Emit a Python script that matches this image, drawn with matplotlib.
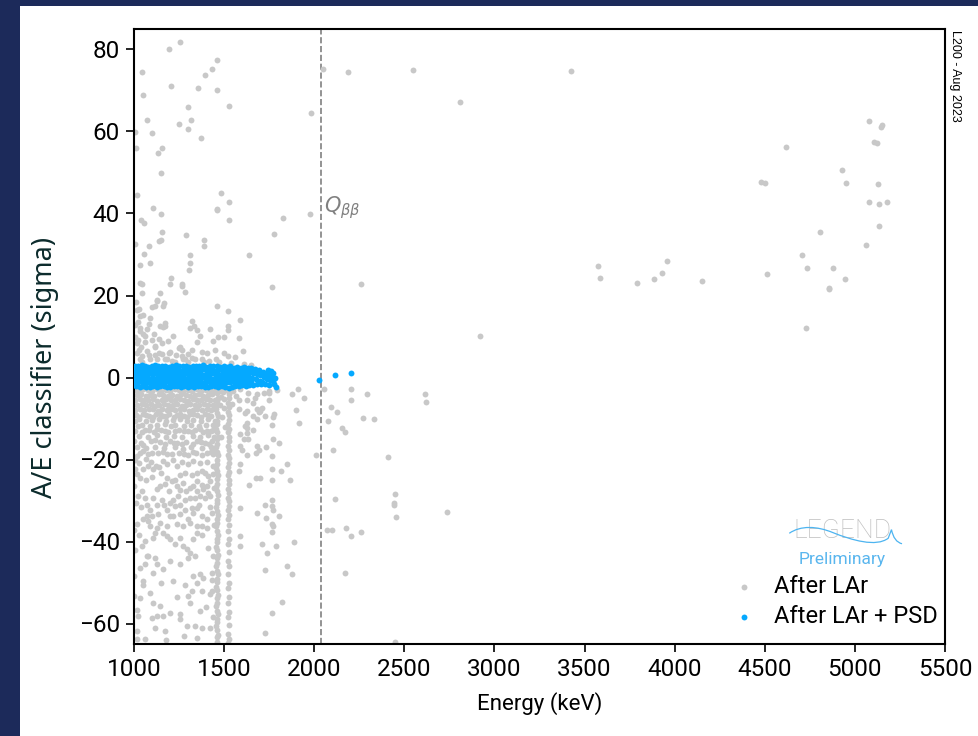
import numpy as np
import matplotlib.pyplot as plt
from matplotlib.patches import Rectangle, PathPatch
from matplotlib.path import Path

plt.rcParams["font.family"] = ["Roboto", "DejaVu Sans"]
plt.rcParams["mathtext.fontset"] = "dejavusans"

Q_BB = 2039.0  # keV

# ---- events after LAr veto (energy keV, A/E sigma) ----
lar_high = [
    (1255, 81.8), (1194, 80.2), (1043, 74.5), (1048, 69.0), (1459, 77.4), (1433, 75.2),
    (1396, 73.7), (1204, 71.0), (1357, 70.5), (1459, 70.0), (1525, 66.3), (1298, 65.9),
    (1318, 62.8), (1250, 61.8), (1070, 62.7), (1301, 60.5), (1098, 59.7), (1007, 59.9),
    (1372, 58.5), (1011, 56.0), (1157, 56.0), (1135, 54.7), (1152, 49.8), (1015, 44.6),
    (1481, 45.0), (1525, 42.8), (1107, 41.4), (1459, 40.8), (1461, 41.2), (1037, 38.3),
    (1055, 37.6), (1148, 39.8), (1525, 38.5), (1829, 38.9), (1975, 39.8), (1981, 64.6),
    (2049, 75.3), (2186, 74.6), (2547, 74.9), (2809, 67.2), (1157, 35.5), (1137, 33.3),
    (1150, 33.5), (1289, 34.8), (1390, 33.5), (1390, 32.0), (1779, 35.0), (1004, 32.6),
    (1081, 32.0), (1055, 30.1), (1309, 29.9), (1638, 29.9), (1309, 27.9), (1033, 27.4),
    (1089, 28.0), (1305, 26.2), (1207, 24.3), (1033, 23.1), (1044, 22.8), (1198, 22.8),
    (1265, 22.9), (1268, 22.4), (2261, 22.7), (1764, 22.0), (1043, 20.7), (1146, 20.7),
    (1285, 20.9), (2922, 10.2),
    (3425, 74.8), (5079, 62.5), (5153, 61.5), (5145, 61.0), (4617, 56.2), (5108, 57.5),
    (5125, 57.2), (4931, 50.6), (4953, 47.4), (5129, 47.2), (4478, 47.6), (4503, 47.4),
    (5079, 42.9), (5134, 42.4), (5177, 42.9), (5134, 36.9), (4808, 35.4), (5063, 32.3),
    (4705, 30.0), (3573, 27.1), (3588, 24.3), (3959, 28.4), (3930, 25.4), (3884, 24.1),
    (3790, 23.0), (4150, 23.5), (4735, 26.8), (4879, 26.6), (4515, 25.2), (4944, 24.1),
    (4855, 21.6), (4858, 21.9), (4731, 12.0),
]

lar_mid = [
    (1126, 18.8), (1117, 17.5), (1098, 17.2), (1163, 17.5), (1463, 17.4), (1524, 16.1),
    (1015, 16.5), (1034, 14.9), (1085, 13.1), (1172, 12.5), (1159, 12.2), (1311, 12.1),
    (1320, 13.7), (1348, 11.7), (1367, 10.2), (1422, 11.9), (1524, 12.6), (1524, 11.7),
    (1589, 14.1), (1219, 10.2), (1468, 9.8), (1502, 9.9), (1585, 9.6), (1603, 6.5),
    (1524, 5.2), (1455, 4.4), (1376, 4.4), (1320, 4.8), (1265, 5.2), (1256, 7.4),
    (1200, 6.1), (1154, 5.7), (1117, 7.4), (1061, 8.7), (1052, 10.5), (1034, 12.1),
    (1024, 9.2), (1015, 6.0), (1034, 4.4), (1089, 4.4), (1117, 5.6), (1182, 4.4),
    (1274, 4.4), (1404, 6.0), (1071, 6.4), (1128, 18.6), (1165, 18.2), (1030, 16.6),
    (1174, 13.3), (1146, 12.5), (1331, 12.5), (1035, 11.3), (1063, 10.1), (1100, 9.2),
    (1118, 7.6), (1155, 8.4), (1248, 7.2), (1266, 6.8), (1192, 6.0), (1322, 6.8),
    (1377, 6.2), (1451, 6.8), (1026, 6.8), (1044, 5.2), (1081, 5.6), (1137, 6.0),
    (1128, 4.4), (1174, 4.5), (1211, 4.1), (1285, 4.4), (1340, 4.4), (1414, 4.1),
    (1017, 8.4), (1045, 3.8), (1230, 3.9), (1300, 3.7), (1390, 3.8), (1470, 3.7),
    (1540, 3.5), (1610, 3.2), (1650, 3.0),
    (1006, 10.0), (1022, 13.5), (1040, 7.5), (1008, 12.8), (1012, 18.5), (1050, 15.2),
    (1072, 11.8), (1090, 14.5), (1110, 10.6), (1140, 9.5), (1190, 8.8), (1235, 5.5),
    (1300, 5.8), (1350, 8.6), (1440, 8.9), (1500, 5.9), (1560, 5.1),
]

# dense continuum below the PSD band, 1000-1460 keV
lar_low = [
    (1004, -3.0), (1029, -3.3), (1052, -2.9), (1078, -3.1), (1101, -3.4), (1127, -2.9),
    (1150, -3.2), (1176, -3.0), (1199, -3.3), (1225, -2.9), (1251, -3.1), (1274, -3.4),
    (1300, -3.0), (1323, -3.2), (1349, -2.9), (1372, -3.3), (1398, -3.1), (1421, -3.0),
    (1445, -3.2),
    (1016, -4.3), (1041, -4.1), (1065, -4.5), (1090, -4.2), (1113, -4.4), (1139, -4.0),
    (1163, -4.3), (1188, -4.6), (1212, -4.2), (1237, -4.4), (1262, -4.1), (1287, -4.3),
    (1311, -4.5), (1336, -4.2), (1361, -4.0), (1385, -4.4), (1409, -4.3), (1434, -4.1),
    (1006, -5.5), (1031, -5.3), (1054, -5.6), (1080, -5.4), (1104, -5.2), (1128, -5.7),
    (1153, -5.4), (1179, -5.3), (1203, -5.6), (1227, -5.5), (1253, -5.2), (1277, -5.4),
    (1302, -5.7), (1326, -5.3), (1351, -5.5), (1374, -5.6), (1400, -5.2), (1424, -5.4),
    (1448, -5.5),
    (1018, -6.7), (1043, -6.5), (1067, -6.8), (1092, -6.4), (1116, -6.9), (1141, -6.6),
    (1166, -6.5), (1190, -6.8), (1215, -6.6), (1240, -6.4), (1264, -6.9), (1289, -6.7),
    (1313, -6.5), (1338, -6.6), (1362, -6.8), (1387, -6.4), (1412, -6.7), (1436, -6.6),
    (1008, -7.9), (1033, -7.7), (1057, -8.0), (1082, -7.8), (1107, -7.6), (1131, -8.1),
    (1156, -7.8), (1181, -7.9), (1205, -7.7), (1230, -8.0), (1255, -7.8), (1279, -7.6),
    (1304, -8.1), (1329, -7.9), (1352, -7.7), (1378, -8.0), (1403, -7.8), (1427, -7.9),
    (1450, -7.7),
    (1012, -9.2), (1050, -8.9), (1085, -9.4), (1120, -9.0), (1160, -9.3), (1195, -8.8),
    (1240, -9.1), (1275, -9.5), (1310, -8.9), (1350, -9.2), (1395, -9.0), (1430, -9.4),
    (1030, -9.6), (1068, -9.1), (1103, -9.7), (1142, -9.0), (1178, -9.4), (1220, -9.6),
    (1258, -8.9), (1292, -9.6), (1330, -9.0), (1372, -9.6), (1412, -9.2),
    (1004, -10.5), (1030, -10.2), (1068, -10.6), (1102, -10.3), (1140, -10.1), (1178, -10.7),
    (1215, -10.4), (1258, -10.2), (1292, -10.6), (1330, -10.3), (1372, -10.5), (1412, -10.1),
    (1448, -10.6),
    (1020, -11.8), (1045, -11.5), (1090, -11.9), (1125, -11.6), (1170, -11.4), (1205, -11.9),
    (1230, -11.6), (1280, -11.8), (1318, -11.5), (1360, -11.9), (1400, -11.7), (1440, -11.5),
    (1008, -13.0), (1060, -12.8), (1110, -13.2), (1150, -12.9), (1190, -13.3), (1248, -12.8),
    (1300, -13.1), (1340, -12.9), (1385, -13.2), (1425, -13.0),
    (1045, -13.3), (1085, -12.9), (1130, -12.6), (1170, -13.0), (1225, -13.1), (1275, -13.0),
    (1320, -13.3), (1365, -12.6), (1405, -13.0), (1440, -12.8),
    (1025, -14.3), (1075, -14.5), (1130, -14.1), (1175, -14.4), (1220, -14.2), (1265, -14.6),
    (1325, -14.2), (1365, -14.4), (1410, -14.1), (1445, -14.5),
    (1002, -15.6), (1040, -15.9), (1095, -15.5), (1145, -15.8), (1200, -15.6), (1240, -16.0),
    (1290, -15.7), (1350, -15.5), (1395, -15.9), (1435, -15.6),
    (1050, -16.4), (1118, -15.3), (1170, -16.2), (1220, -15.9), (1265, -16.3), (1325, -16.1),
    (1372, -15.8), (1415, -16.2), (1445, -17.5),
    (1018, -17.0), (1065, -17.3), (1115, -16.9), (1165, -17.2), (1225, -17.0), (1270, -17.4),
    (1315, -16.9), (1380, -17.2), (1425, -17.0),
    (1035, -18.4), (1080, -18.7), (1135, -18.3), (1185, -18.6), (1250, -18.4), (1300, -18.8),
    (1345, -18.5), (1405, -18.3), (1440, -18.7),
    (1048, -18.0), (1100, -18.3), (1160, -18.2), (1210, -18.7), (1280, -18.6), (1325, -18.2),
    (1375, -18.9), (1425, -18.2),
    (1006, -20.0), (1019, -19.2), (1052, -22.4), (1080, -21.6), (1108, -22.4), (1122, -21.6),
    (1163, -20.4), (1219, -20.0), (1182, -24.5), (1209, -25.3), (1228, -24.9), (1256, -23.7),
    (1283, -23.2), (1320, -23.7), (1348, -23.2), (1376, -22.8), (1394, -23.2), (1413, -24.1),
    (1422, -25.3), (1348, -25.3), (1376, -26.1), (1404, -26.5), (1413, -28.1), (1385, -27.3),
    (1348, -27.7), (1311, -26.9), (1274, -25.7), (1237, -26.5), (1145, -26.5), (1126, -27.3),
    (1043, -27.7), (1061, -29.3), (1071, -31.0), (1089, -32.2), (1098, -33.8), (1071, -33.8),
    (1015, -35.8), (1052, -34.6), (1126, -31.0), (1154, -29.8), (1182, -32.2), (1219, -29.8),
    (1228, -31.4), (1256, -31.0), (1283, -29.8), (1311, -29.3), (1339, -29.3), (1367, -28.9),
    (1394, -29.3), (1422, -28.9), (1348, -31.8), (1320, -31.8), (1283, -32.2), (1256, -33.4),
    (1219, -33.8), (1182, -36.3), (1145, -35.4), (1126, -36.7), (1089, -36.3), (1117, -37.9),
    (1108, -39.1), (1043, -41.1), (1061, -39.9), (1080, -43.6), (1117, -44.0), (1126, -45.6),
    (1108, -47.6), (1071, -43.6), (1034, -46.4), (1052, -49.7), (1048, -50.5), (1089, -52.5),
    (1108, -54.9), (1145, -55.8), (1034, -53.7), (1024, -58.2), (1098, -58.6), (1126, -58.2),
    (1163, -58.2), (1200, -57.4), (1256, -57.8), (1256, -59.0), (1293, -60.6), (1339, -60.6),
    (1376, -61.1), (1422, -61.1), (1348, -63.5), (1172, -61.9), (1117, -61.1), (1015, -61.9),
    (1015, -63.9), (1061, -63.9), (1182, -38.7), (1200, -39.5), (1256, -39.1), (1274, -41.1),
    (1293, -41.9), (1311, -42.8), (1339, -43.6), (1302, -44.0), (1200, -44.8), (1256, -45.6),
    (1163, -46.8), (1283, -50.5), (1219, -49.7), (1330, -48.5), (1367, -48.0), (1385, -48.9),
    (1348, -50.1), (1431, -47.6), (1431, -49.3), (1422, -52.9), (1376, -52.1), (1320, -52.1),
    (1302, -53.3), (1431, -52.1), (1367, -57.0), (1311, -54.9), (1348, -36.3), (1376, -36.3),
    (1404, -36.7), (1348, -37.9), (1376, -38.3), (1237, -35.8), (1274, -36.3), (1311, -35.4),
    (1200, -33.8), (1376, -33.8), (1404, -34.6), (1431, -33.0), (1006, -22.4), (1002, -26.5),
    (1011, -30.6), (1002, -37.1), (1006, -42.0), (1002, -48.5), (1002, -53.3), (1015, -56.6),
    (1030, -20.8), (1068, -19.9), (1095, -20.5), (1140, -21.8), (1185, -21.0), (1240, -21.5),
    (1265, -20.6), (1300, -21.2), (1330, -20.3), (1365, -20.9), (1405, -20.5), (1440, -21.7),
    (1015, -23.5), (1035, -24.6), (1065, -25.0), (1098, -24.2), (1150, -23.4), (1170, -26.0),
    (1195, -27.8), (1255, -27.5), (1290, -27.8), (1330, -26.4), (1440, -23.6), (1445, -27.0),
    (1022, -29.0), (1040, -31.6), (1105, -29.5), (1135, -33.2), (1165, -31.2), (1200, -30.5),
    (1245, -29.0), (1300, -34.4), (1330, -33.0), (1360, -31.0), (1420, -31.5), (1445, -36.0),
    (1030, -38.5), (1080, -35.0), (1160, -38.0), (1225, -40.5), (1330, -39.5), (1410, -41.5),
    (1440, -43.5), (1060, -45.5), (1150, -50.0), (1240, -53.5), (1400, -56.0), (1180, -64.0),
    (1280, -63.0), (1440, -58.5),
    (1475, -3.2), (1495, -3.5), (1510, -3.0), (1482, -4.8), (1502, -5.2), (1478, -6.8),
    (1498, -7.5), (1488, -9.6), (1505, -12.0), (1480, -14.5),
]

# 40K full energy line at 1461 keV
lar_k40 = [
    (1457, -2.9), (1461, -3.8), (1465, -4.9), (1459, -5.7), (1463, -6.8), (1457, -7.6),
    (1461, -8.7), (1465, -9.5), (1459, -10.6), (1463, -11.4), (1457, -12.5), (1461, -13.3),
    (1465, -14.4), (1459, -15.1), (1463, -16.3), (1457, -17.0), (1461, -18.2), (1465, -19.0),
    (1459, -20.1), (1463, -21.0), (1457, -22.0), (1461, -22.9), (1465, -23.9), (1459, -24.8),
    (1463, -25.9), (1457, -26.7), (1461, -27.8), (1465, -28.6), (1459, -29.8), (1463, -30.5),
    (1457, -31.7), (1461, -32.5), (1465, -33.6), (1459, -34.4), (1463, -35.6), (1457, -36.3),
    (1461, -37.5), (1465, -38.3), (1459, -39.4), (1463, -40.2), (1457, -41.4), (1461, -42.1),
    (1465, -43.3), (1459, -44.1), (1463, -45.2), (1457, -46.0), (1461, -47.2), (1465, -48.0),
    (1459, -49.1), (1463, -49.9), (1457, -51.1), (1461, -51.8), (1465, -53.0), (1459, -53.8),
    (1463, -54.9), (1457, -55.7), (1461, -56.9), (1465, -57.6), (1459, -58.8), (1463, -59.6),
    (1457, -60.7), (1461, -61.5), (1465, -62.7), (1459, -63.4), (1463, -64.6),
]

# 42K line at 1525 keV
lar_k42 = [
    (1522, -3.0), (1526, -4.1), (1528, -5.0), (1523, -6.2), (1527, -7.1), (1522, -8.3),
    (1525, -9.2), (1528, -10.4), (1523, -11.3), (1526, -12.5), (1522, -13.4), (1525, -14.6),
    (1528, -15.5), (1523, -16.7), (1526, -17.6), (1522, -18.8), (1525, -19.7), (1528, -20.9),
    (1523, -21.8), (1526, -23.0), (1522, -23.9), (1525, -25.1), (1528, -26.0), (1523, -27.2),
    (1526, -28.1), (1522, -29.3), (1525, -30.2), (1528, -31.4), (1523, -32.3), (1526, -33.5),
    (1522, -34.6), (1525, -36.0), (1524, -37.4), (1526, -39.5), (1523, -40.6), (1525, -42.5),
    (1524, -44.8), (1526, -46.0), (1523, -47.9), (1525, -50.2), (1524, -51.3), (1526, -53.5),
    (1523, -55.0), (1525, -57.2), (1524, -58.4), (1526, -60.3), (1523, -62.5), (1525, -63.8),
    (1524, -64.7),
]

# 1530 keV up to the ROI and beyond
lar_tail = [
    (1618, -8.6), (1662, -9.4), (1696, -8.5), (1725, -9.3), (1770, -9.6), (1777, -9.0),
    (1764, -11.5), (1626, -12.3), (1589, -13.9), (1613, -15.0), (1635, -15.1), (1774, -15.0),
    (1681, -16.7), (1733, -16.9), (1677, -18.4), (1764, -19.2), (1587, -21.2), (1583, -22.8),
    (1677, -24.6), (1700, -24.5), (1764, -25.1), (1638, -26.3), (1764, -22.4), (1589, -31.8),
    (1681, -33.0), (1725, -31.0), (1764, -31.4), (1770, -32.2), (1764, -29.8), (1733, -34.2),
    (1764, -35.8), (1774, -36.3), (1764, -37.7), (1589, -38.7), (1589, -41.0), (1709, -40.5),
    (1740, -42.9), (1729, -47.0), (1581, -5.4), (1627, -5.4), (1581, -7.8), (1627, -8.2),
    (1627, -11.1), (1747, -5.4), (1747, -3.8), (1673, -5.0), (1720, -3.8), (1710, -7.4),
    (1683, -7.8), (1627, -13.5), (1692, -17.6), (1627, -18.8), (1803, -16.0), (1618, -11.9),
    (1599, -17.6), (1588, -2.9), (1635, -3.7), (1681, -4.1), (1751, -3.3), (1662, -6.2),
    (1699, -8.2), (1681, -10.2), (1588, -16.8), (1662, -12.7), (1548, -3.2), (1565, -4.6),
    (1545, -6.5),
    (1792, -3.1), (1908, -2.9), (1879, -4.1), (1945, -5.1), (1897, -8.0), (1917, -11.0),
    (1851, -21.2), (1816, -22.8), (1867, -25.0), (1805, -33.8), (1790, -41.1), (1886, -40.1),
    (1849, -45.9), (1877, -48.0), (1823, -54.7), (1764, -57.4), (1729, -62.4),
    (2054, -2.9), (2202, -2.7), (2291, -4.0), (2202, -5.5), (2613, -4.0), (2620, -5.9),
    (2093, -7.2), (2126, -8.3), (2075, -10.6), (2269, -9.8), (2330, -10.0), (2154, -12.4),
    (2173, -13.2), (2104, -17.6), (2012, -18.9), (2410, -19.5), (2117, -29.6), (2448, -28.3),
    (2443, -30.6), (2443, -31.2), (2456, -34.1), (2735, -32.8), (2071, -37.1), (2097, -37.2),
    (2176, -36.7), (2202, -38.7), (2261, -37.7), (2173, -47.6), (2448, -64.4),
]

# ---- events after LAr veto + PSD ----
psd_band = [
    (1003, 2.9), (1021, 2.7), (1042, 3.0), (1060, 2.8), (1078, 2.6), (1099, 2.9), (1117, 3.0),
    (1135, 2.7), (1156, 2.8), (1174, 2.9), (1192, 2.6), (1213, 2.8), (1231, 3.0), (1249, 2.7),
    (1270, 2.9), (1288, 2.8), (1306, 2.6), (1327, 2.9), (1345, 2.7), (1363, 2.8), (1384, 3.0),
    (1402, 2.6), (1420, 2.8), (1441, 2.7), (1459, 2.9), (1477, 2.6), (1498, 2.8), (1516, 2.5),
    (1534, 2.7), (1555, 2.4), (1573, 2.6), (1591, 2.3), (1612, 2.5), (1630, 2.2),
    (1012, 1.9), (1031, 1.8), (1050, 2.0), (1069, 1.7), (1089, 1.9), (1107, 1.8), (1126, 2.0),
    (1145, 1.9), (1164, 1.7), (1183, 1.8), (1202, 2.0), (1221, 1.9), (1240, 1.8), (1259, 1.7),
    (1278, 1.9), (1297, 2.0), (1316, 1.8), (1335, 1.9), (1354, 1.7), (1373, 1.8), (1392, 2.0),
    (1411, 1.9), (1430, 1.8), (1449, 1.7), (1468, 1.9), (1487, 1.8), (1506, 1.6), (1525, 1.8),
    (1544, 1.7), (1563, 1.5), (1582, 1.7), (1601, 1.6), (1620, 1.4), (1639, 1.5),
    (1003, 0.9), (1021, 0.8), (1042, 1.0), (1060, 0.7), (1078, 0.9), (1099, 0.8), (1117, 1.0),
    (1135, 0.8), (1156, 0.9), (1174, 0.7), (1192, 1.0), (1213, 0.9), (1231, 0.8), (1249, 0.9),
    (1270, 0.7), (1288, 1.0), (1306, 0.8), (1327, 0.9), (1345, 0.8), (1363, 1.0), (1384, 0.7),
    (1402, 0.9), (1420, 0.8), (1441, 1.0), (1459, 0.9), (1477, 0.7), (1498, 0.8), (1516, 0.9),
    (1534, 0.7), (1555, 0.8), (1573, 0.6), (1591, 0.8), (1612, 0.7), (1630, 0.6),
    (1012, -0.1), (1031, -0.2), (1050, 0.0), (1069, -0.1), (1089, -0.3), (1107, -0.1),
    (1126, 0.0), (1145, -0.2), (1164, -0.1), (1183, -0.2), (1202, 0.0), (1221, -0.1),
    (1240, -0.3), (1259, -0.1), (1278, -0.2), (1297, 0.0), (1316, -0.1), (1335, -0.2),
    (1354, -0.1), (1373, 0.0), (1392, -0.2), (1411, -0.1), (1430, -0.3), (1449, -0.1),
    (1468, -0.2), (1487, 0.0), (1506, -0.1), (1525, -0.2), (1544, -0.1), (1563, -0.3),
    (1582, -0.2), (1601, -0.1), (1620, -0.2), (1639, -0.3),
    (1003, -1.1), (1021, -1.2), (1042, -1.0), (1060, -1.2), (1078, -1.1), (1099, -1.3),
    (1117, -1.1), (1135, -1.0), (1156, -1.2), (1174, -1.1), (1192, -1.2), (1213, -1.0),
    (1231, -1.1), (1249, -1.3), (1270, -1.1), (1288, -1.2), (1306, -1.0), (1327, -1.1),
    (1345, -1.2), (1363, -1.1), (1384, -1.3), (1402, -1.0), (1420, -1.2), (1441, -1.1),
    (1459, -1.2), (1477, -1.1), (1498, -1.0), (1516, -1.2), (1534, -1.1), (1555, -1.2),
    (1573, -1.0), (1591, -1.1), (1612, -1.2), (1630, -1.1),
    (1012, -2.1), (1031, -2.2), (1050, -2.0), (1069, -2.2), (1089, -2.3), (1107, -2.1),
    (1126, -2.2), (1145, -2.0), (1164, -2.1), (1183, -2.3), (1202, -2.2), (1221, -2.1),
    (1240, -2.0), (1259, -2.2), (1278, -2.1), (1297, -2.3), (1316, -2.1), (1335, -2.2),
    (1354, -2.0), (1373, -2.1), (1392, -2.2), (1411, -2.3), (1430, -2.1), (1449, -2.0),
    (1468, -2.2), (1487, -2.1), (1506, -2.3), (1525, -2.5), (1544, -2.2), (1563, -2.0),
    (1582, -2.1), (1601, -1.9), (1620, -2.0), (1639, -1.8),
    (1650, 2.3), (1660, 1.2), (1655, 0.0), (1650, -1.2), (1662, -1.9), (1672, 2.0),
    (1680, 0.8), (1676, -0.4), (1684, -1.6), (1695, 1.8), (1700, 0.5), (1698, -0.8),
    (1705, -1.5), (1716, 1.4), (1720, 0.2), (1712, -1.2), (1730, 0.9), (1738, -0.3),
    (1728, -1.6), (1745, 1.8), (1750, 0.7), (1752, -0.6), (1748, -1.8), (1760, 1.5),
    (1765, 0.3), (1770, -0.9), (1776, -1.5), (1782, -0.2), (1786, -2.2), (1774, 1.0),
]

psd_roi = [(2027, -0.65), (2117, 0.5), (2202, 1.0)]

x_ticks = [1000, 1500, 2000, 2500, 3000, 3500, 4000, 4500, 5000, 5500]
y_ticks = [-60, -40, -20, 0, 20, 40, 60, 80]

lar = np.array(lar_high + lar_mid + lar_low + lar_k40 + lar_k42 + lar_tail, dtype=float)
psd = np.array(psd_band + psd_roi, dtype=float)

fig = plt.figure(figsize=(9.79, 7.36), dpi=100)
fig.patch.set_facecolor("#1c2a5a")
fig.add_artist(Rectangle((20 / 979, 0), 1, 1 - 6 / 736, transform=fig.transFigure,
                         facecolor="white", edgecolor="none", zorder=0))

ax = fig.add_axes([134 / 979, 1 - 644 / 736, (945 - 134) / 979, (644 - 29) / 736])

grey = "#c8c8c8"
blue = "#05a9ff"
ax.scatter(lar[:, 0], lar[:, 1], s=18, color=grey, linewidths=0, label="After LAr", zorder=2)
ax.scatter(psd[:, 0], psd[:, 1], s=18, color=blue, linewidths=0, label="After LAr + PSD", zorder=3)

ax.axvline(Q_BB, color="#808080", linestyle="--", linewidth=1.2, zorder=1)
ax.text(Q_BB + 16, 40.3, r"$Q_{\beta\beta}$", color="#808080", fontsize=15, va="baseline")

ax.set_xlim(1000, 5500)
ax.set_ylim(-65, 85)
ax.set_xticks(x_ticks)
ax.set_yticks(y_ticks)
ax.tick_params(direction="out", length=6, width=1.2, labelsize=17.5, pad=4)
for sp in ax.spines.values():
    sp.set_linewidth(1.5)

ax.set_xlabel("Energy (keV)", fontsize=16, labelpad=8)
ax.set_ylabel("A/E classifier (sigma)", fontsize=19.5, family=["Noto Sans", "DejaVu Sans"],
              color="#0c2b2c")
ax.yaxis.set_label_coords(-0.092, 0.449)

# LEGEND logo
ax.text(0.873, 0.172, "LEGEND", transform=ax.transAxes, ha="center", va="baseline",
        fontsize=19, color="#bfbfbf", fontweight="light")
verts = [(0.808, 0.180), (0.822, 0.193), (0.842, 0.192), (0.862, 0.181),
         (0.885, 0.169), (0.915, 0.157), (0.930, 0.172),
         (0.934, 0.186),
         (0.937, 0.166), (0.947, 0.163)]
codes = [Path.MOVETO, Path.CURVE4, Path.CURVE4, Path.CURVE4,
         Path.CURVE4, Path.CURVE4, Path.CURVE4,
         Path.LINETO, Path.CURVE3, Path.CURVE3]
ax.add_patch(PathPatch(Path(verts, codes), transform=ax.transAxes, facecolor="none",
                       edgecolor="#4db4f0", linewidth=0.9, zorder=4))
ax.text(0.873, 0.137, "Preliminary", transform=ax.transAxes, ha="center", va="center",
        fontsize=12.5, color="#5ab6ee")

ax.legend(loc="lower right", bbox_to_anchor=(0.991, 0.026), frameon=False, fontsize=17,
          handletextpad=0.25, borderaxespad=0, borderpad=0, labelspacing=0.28,
          scatterpoints=1)

fig.text(955 / 979, 1 - 30 / 736, "L200 - Aug 2023", rotation=270, ha="center", va="top",
         fontsize=9, family=["Liberation Sans", "DejaVu Sans"], color="black")

fig.savefig("out.png", dpi=100, facecolor=fig.get_facecolor())
